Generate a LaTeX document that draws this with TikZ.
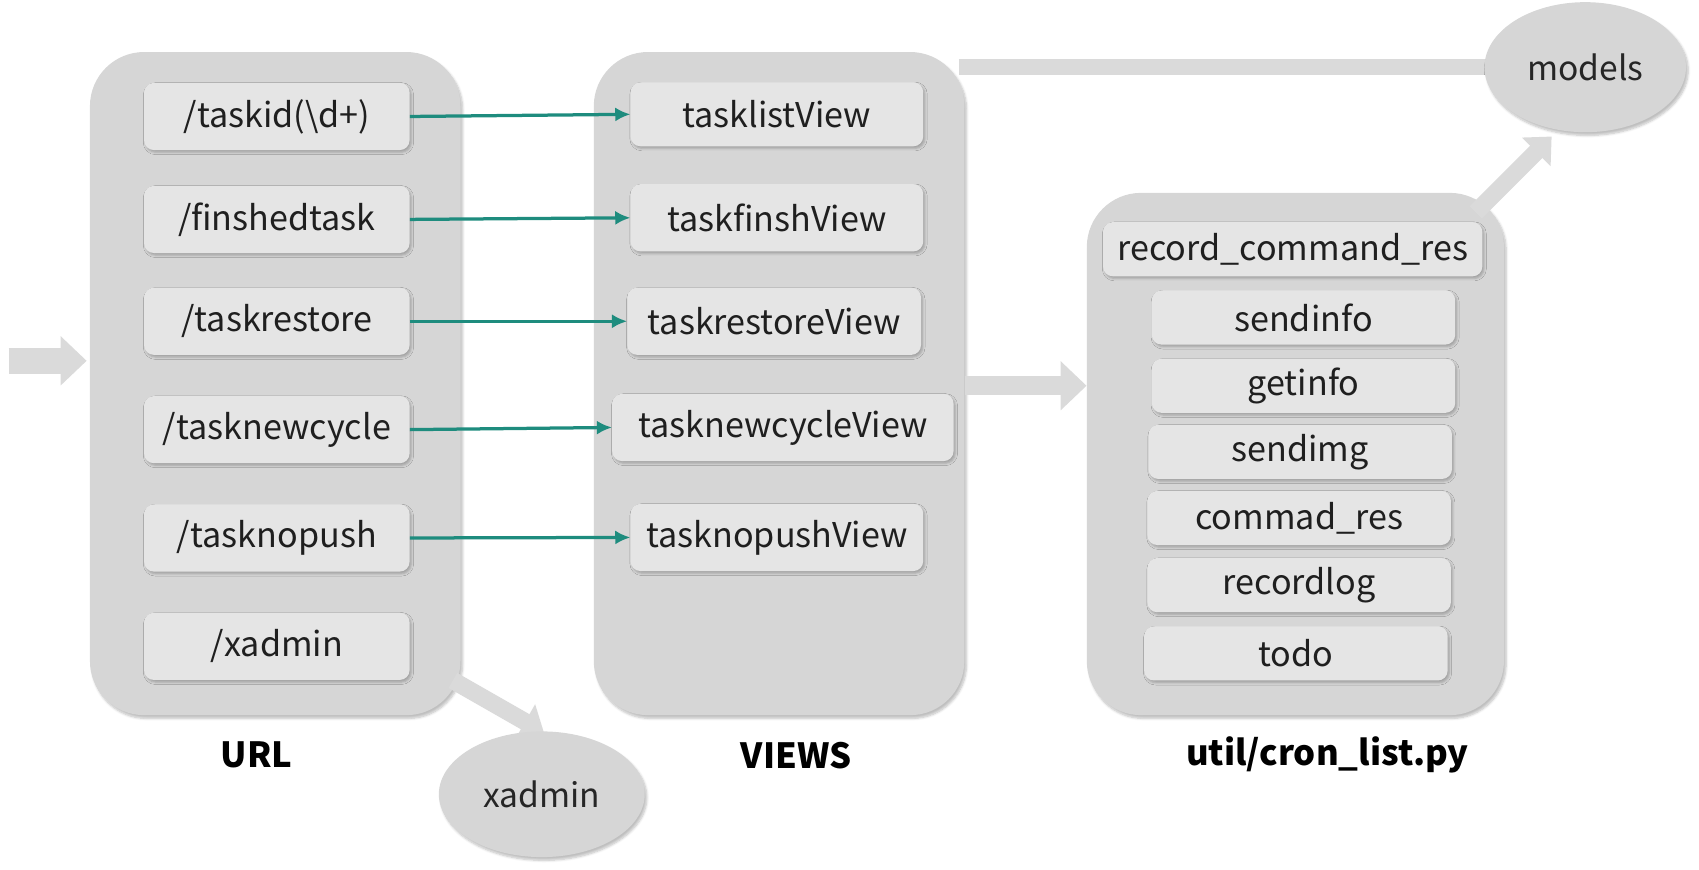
\documentclass[tikz,border=0pt]{standalone}
\usepackage{fontspec}
\setmainfont{Noto Sans CJK SC}
\usetikzlibrary{shadows.blur,arrows.meta,shapes.geometric}

\definecolor{boxgray}{HTML}{D6D6D6}
\definecolor{itemgray}{HTML}{E5E5E5}
\definecolor{bargray}{HTML}{DADADA}
\definecolor{linkteal}{HTML}{1E8C7E}

\tikzset{
  group/.style={fill=boxgray, rounded corners=50pt, blur shadow={shadow blur steps=6, shadow xshift=2pt, shadow yshift=-3pt, shadow opacity=25}},
  item/.style={fill=itemgray, rounded corners=9pt, minimum height=62pt, text=black!88,
    font=\fontsize{31.5}{36}\selectfont,
    blur shadow={shadow blur steps=4, shadow xshift=1.5pt, shadow yshift=-2pt, shadow opacity=25}},
  cronitem/.style={item, minimum height=50pt},
  blob/.style={ellipse, fill=boxgray, text=black!85, font=\fontsize{31}{36}\selectfont,
    blur shadow={shadow blur steps=6, shadow xshift=2pt, shadow yshift=-3pt, shadow opacity=25}},
  title/.style={font=\fontsize{32}{38}\selectfont\bfseries},
  link/.style={draw=linkteal, line width=3pt, -{Latex[length=14pt, width=13pt]}},
  fatarrow/.style={draw=bargray, line width=24pt, -{Triangle[length=24pt, width=44pt]}},
}

\begin{document}
\begin{tikzpicture}[x=1pt, y=-1pt]
    \useasboundingbox (0, 0) rectangle (1568, 802);

    % incoming arrow
    \coordinate (in) at (8, 333);
    \coordinate (inend) at (80, 333);
    \draw[fatarrow] (in) -- (inend);

    % groups
    \node[group, minimum width=342pt, minimum height=612pt] (url) at (254, 354) {};
    \node[group, minimum width=342pt, minimum height=612pt] (views) at (719, 354) {};
    \node[group, minimum width=385pt, minimum height=482pt] (cron) at (1195.5, 419) {};

    % url items
    \node[item, minimum width=245pt] (u1) at (255.5, 107.5) {/taskid(\textbackslash d+)};
    \node[item, minimum width=245pt] (u2) at (255.5, 202.5) {/finshedtask};
    \node[item, minimum width=245pt] (u3) at (255.5, 296.5) {/taskrestore};
    \node[item, minimum width=245pt] (u4) at (255.5, 396.5) {/tasknewcycle};
    \node[item, minimum width=245pt] (u5) at (255.5, 496.5) {/tasknopush};
    \node[item, minimum width=245pt] (u6) at (255.5, 596.5) {/xadmin};

    % view items
    \node[item, minimum width=270pt, minimum height=59pt] (v1) at (717, 105.5) {tasklistView};
    \node[item, minimum width=270pt] (v2) at (717, 201) {taskfinshView};
    \node[item, minimum width=271pt] (v3) at (714.5, 296.5) {taskrestoreView};
    \node[item, minimum width=315pt] (v4) at (722.5, 394.5) {tasknewcycleView};
    \node[item, minimum width=270pt] (v5) at (717, 496) {tasknopushView};

    % cron items
    \node[cronitem, minimum width=350pt] (c1) at (1193, 230) {record\_command\_res};
    \node[cronitem, minimum width=280pt] (c2) at (1203, 293) {sendinfo};
    \node[cronitem, minimum width=280pt] (c3) at (1203, 356) {getinfo};
    \node[cronitem, minimum width=280pt] (c4) at (1200, 417) {sendimg};
    \node[cronitem, minimum width=280pt] (c5) at (1199, 478) {commad\_res};
    \node[cronitem, minimum width=280pt] (c6) at (1199, 540) {recordlog};
    \node[cronitem, minimum width=280pt] (c7) at (1196, 603) {todo};

    \draw[link] (u1.east) -- (v1.west);
    \draw[link] (u2.east) -- (v2.west);
    \draw[link] (u3.east) -- (v3.west);
    \draw[link] (u4.east) -- (v4.west);
    \draw[link] (u5.east) -- (v5.west);

    % gray connectors
    \coordinate (barstart) at (885, 62);
    \coordinate (barend) at (1400, 62);
    \draw[draw=bargray, line width=15pt] (barstart) -- (barend);
    \draw[fatarrow, line width=18pt] (views.east |- 0, 356) -- (cron.west |- 0, 356);
    \draw[fatarrow, line width=16pt, -{Triangle[length=20pt, width=36pt]}] (418, 628) -- (502, 676);
    \draw[fatarrow, line width=16pt, -{Triangle[length=20pt, width=36pt]}] (1362, 196) -- (1432, 126);

    \node[blob, minimum width=190pt, minimum height=116pt] (xadmin) at (500, 733) {xadmin};
    \node[blob, minimum width=186pt, minimum height=120pt] (models) at (1463, 62) {models};

    % titles
    \node[title] (urltitle) at (237, 697) {URL};
    \node[title] (viewstitle) at (735, 697) {VIEWS};
    \node[title] (crontitle) at (1225, 697) {util/cron\_list.py};
\end{tikzpicture}
\end{document}
